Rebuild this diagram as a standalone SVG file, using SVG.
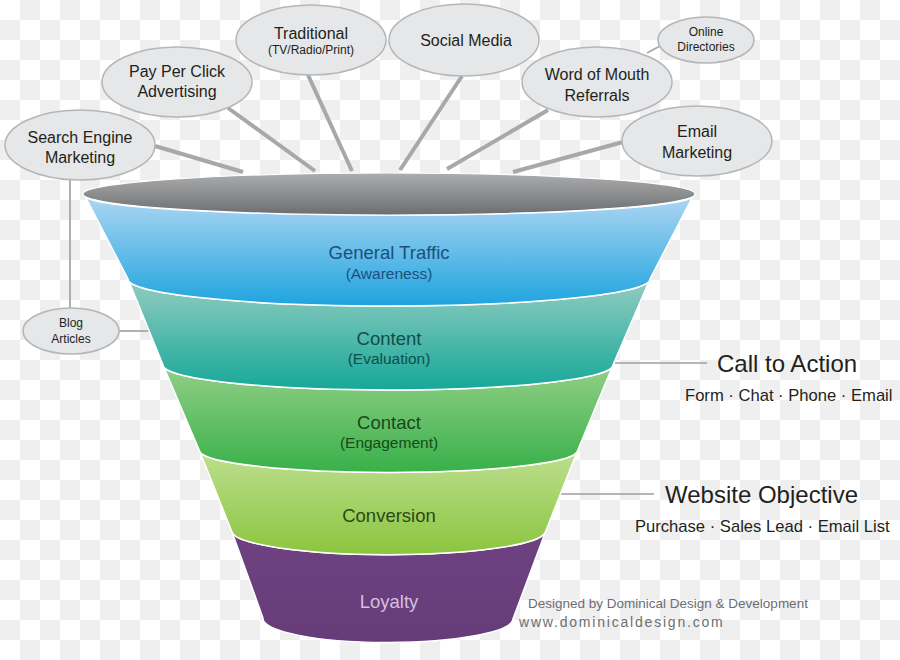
<svg xmlns="http://www.w3.org/2000/svg" width="900" height="660" viewBox="0 0 900 660">
<defs>
<pattern id="checker" width="40" height="40" patternUnits="userSpaceOnUse">
<rect width="40" height="40" fill="#ffffff"/>
<rect x="20" y="0" width="20" height="20" fill="#efefef"/>
<rect x="0" y="20" width="20" height="20" fill="#efefef"/>
</pattern>
<linearGradient id="gTop" x1="0" y1="0" x2="0" y2="1">
<stop offset="0" stop-color="#acadaf"/>
<stop offset="1" stop-color="#6c6d70"/>
</linearGradient>
<linearGradient id="gBlue" x1="0" y1="0" x2="0" y2="1">
<stop offset="0" stop-color="#aed6f2"/>
<stop offset="1" stop-color="#1ea4df"/>
</linearGradient>
<linearGradient id="gTeal" x1="0" y1="0" x2="0" y2="1">
<stop offset="0" stop-color="#94ccc2"/>
<stop offset="1" stop-color="#16a898"/>
</linearGradient>
<linearGradient id="gGreen" x1="0" y1="0" x2="0" y2="1">
<stop offset="0" stop-color="#93d087"/>
<stop offset="1" stop-color="#38b049"/>
</linearGradient>
<linearGradient id="gLime" x1="0" y1="0" x2="0" y2="1">
<stop offset="0" stop-color="#bddf8f"/>
<stop offset="1" stop-color="#8bc53f"/>
</linearGradient>
<linearGradient id="gPurple" x1="0" y1="0" x2="0" y2="1">
<stop offset="0" stop-color="#6e4281"/>
<stop offset="1" stop-color="#663c78"/>
</linearGradient>
</defs>
<style>
.bubble{fill:#e6e7e8;stroke:#b5b6b8;stroke-width:1.5}
.conn{stroke:#a7a8aa;stroke-width:4;fill:none;stroke-linecap:butt}
.thin{stroke:#a7a8aa;stroke-width:1.8;fill:none}
.guide{stroke:#9d9ea0;stroke-width:1.3;fill:none}
.band{stroke:#ffffff;stroke-width:1.5}
text{font-family:"Liberation Sans",Arial,sans-serif;text-anchor:middle}
.bt{font-size:16px;fill:#231f20}
.bs{font-size:12px;fill:#231f20}
.main{font-size:18.5px}
.sub{font-size:15.5px}
.rt{font-size:24px;fill:#231f20;text-anchor:start}
.rs{font-size:16.6px;fill:#231f20;text-anchor:start}
.credit{fill:#6d6e71;text-anchor:start}
</style>
<rect width="900" height="660" fill="url(#checker)"/>

<g id="connectors">
<line class="conn" x1="155" y1="146" x2="243" y2="172"/>
<line class="conn" x1="228" y1="108" x2="315" y2="171"/>
<line class="conn" x1="308" y1="75" x2="352" y2="171"/>
<line class="conn" x1="462" y1="76" x2="400" y2="170"/>
<line class="conn" x1="548" y1="110" x2="447" y2="169"/>
<line class="conn" x1="623" y1="142" x2="513" y2="172"/>
<line class="thin" x1="647" y1="53" x2="660" y2="46"/>
<line class="thin" x1="70" y1="180" x2="70" y2="308"/>
<line class="thin" x1="119" y1="331" x2="150" y2="331"/>
<line class="guide" x1="615" y1="363" x2="707" y2="363"/>
<line class="guide" x1="560" y1="494" x2="654" y2="494"/>
</g>

<g id="funnel">
<path class="band" fill="url(#gPurple)" d="M232,532 A157 24 0 0 0 545,533 L513,619 A125 24 0 0 1 263,618 Z"/>
<path class="band" fill="url(#gLime)" d="M200,452 A189 22 0 0 0 577,452 L545,533 A157 24 0 0 1 232,532 Z"/>
<path class="band" fill="url(#gGreen)" d="M163,365 A225 25 0 0 0 613,365 L577,452 A189 22 0 0 1 200,452 Z"/>
<path class="band" fill="url(#gTeal)" d="M128,279 A261 27 0 0 0 650,279 L613,365 A225 25 0 0 1 163,365 Z"/>
<path class="band" fill="url(#gBlue)" d="M85,196 A304 19 0 0 0 693,196 L650,279 A261 27 0 0 1 128,279 Z"/>
<ellipse cx="389" cy="194" rx="306" ry="21" fill="url(#gTop)" stroke="#ffffff" stroke-width="1.2"/>
</g>

<g id="label-traffic">
<text class="main" x="389" y="259" fill="#1c4f7f">General Traffic</text>
<text class="sub" x="389" y="279" fill="#1c4f7f">(Awareness)</text>
</g>
<g id="label-content">
<text class="main" x="389" y="345" fill="#0e4f4a">Content</text>
<text class="sub" x="389" y="364" fill="#0e4f4a">(Evaluation)</text>
</g>
<g id="label-contact">
<text class="main" x="389" y="429" fill="#164a1c">Contact</text>
<text class="sub" x="389" y="448" fill="#164a1c">(Engagement)</text>
</g>
<g id="label-conversion">
<text class="main" x="389" y="522" fill="#2b4a13">Conversion</text>
</g>
<g id="label-loyalty">
<text class="main" x="389" y="608" fill="#d6bfe2">Loyalty</text>
</g>

<g id="node-sem">
<ellipse class="bubble" cx="80" cy="145" rx="75" ry="35"/>
<text class="bt" x="80" y="143">Search Engine</text>
<text class="bt" x="80" y="163">Marketing</text>
</g>
<g id="node-ppc">
<ellipse class="bubble" cx="177" cy="82" rx="75" ry="35"/>
<text class="bt" x="177" y="77">Pay Per Click</text>
<text class="bt" x="177" y="97">Advertising</text>
</g>
<g id="node-traditional">
<ellipse class="bubble" cx="311" cy="40" rx="75" ry="35"/>
<text class="bt" x="311" y="39">Traditional</text>
<text class="bs" x="311" y="54">(TV/Radio/Print)</text>
</g>
<g id="node-social">
<ellipse class="bubble" cx="464" cy="40" rx="75" ry="36"/>
<text class="bt" x="466" y="46">Social Media</text>
</g>
<g id="node-directories">
<ellipse class="bubble" cx="706" cy="40" rx="48" ry="23"/>
<text class="bs" x="706" y="36">Online</text>
<text class="bs" x="706" y="51">Directories</text>
</g>
<g id="node-wom">
<ellipse class="bubble" cx="597" cy="82" rx="75" ry="35"/>
<text class="bt" x="597" y="80">Word of Mouth</text>
<text class="bt" x="597" y="101">Referrals</text>
</g>
<g id="node-email">
<ellipse class="bubble" cx="697" cy="141" rx="75" ry="35"/>
<text class="bt" x="697" y="137">Email</text>
<text class="bt" x="697" y="158">Marketing</text>
</g>
<g id="node-blog">
<ellipse class="bubble" cx="71" cy="331" rx="48" ry="23"/>
<text class="bs" x="71" y="327">Blog</text>
<text class="bs" x="71" y="343">Articles</text>
</g>

<g id="cta">
<text class="rt" x="717" y="372">Call to Action</text>
<text class="rs" x="685" y="401">Form · Chat · Phone · Email</text>
</g>
<g id="objective">
<text class="rt" x="665" y="503">Website Objective</text>
<text class="rs" x="635" y="532">Purchase · Sales Lead · Email List</text>
</g>
<g id="credit">
<text class="credit" x="528" y="608" font-size="13.5">Designed by Dominical Design &amp; Development</text>
<text class="credit" x="519" y="627" font-size="14" letter-spacing="1.8">www.dominicaldesign.com</text>
</g>
</svg>
